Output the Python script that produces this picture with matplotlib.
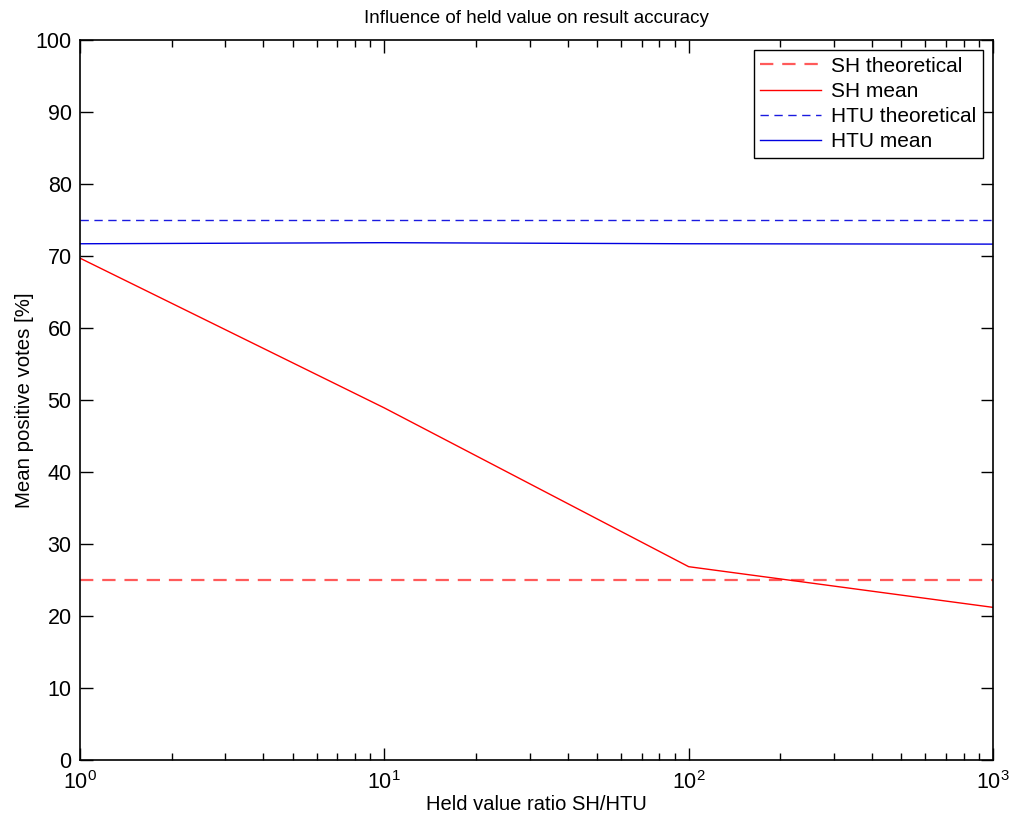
import matplotlib
matplotlib.use("Agg")
import matplotlib.pyplot as plt
from matplotlib.ticker import LogLocator, NullFormatter, MultipleLocator

plt.rcParams['font.family'] = ['Liberation Sans', 'DejaVu Sans']
plt.rcParams['mathtext.fontset'] = 'custom'
plt.rcParams['mathtext.rm'] = 'Liberation Sans'
plt.rcParams['mathtext.default'] = 'regular'

ratios = [1, 10, 100, 1000]
sh_mean = [69.7, 48.9, 26.85, 21.2]
htu_mean = [71.7, 71.85, 71.7, 71.65]
sh_theoretical = 25
htu_theoretical = 75

fig = plt.figure(figsize=(10.14, 8.22), dpi=100)
ax = fig.add_axes([80/1014, 1-760/822, 913/1014, 720/822])

ax.plot(ratios, [sh_theoretical]*len(ratios), color='#ff5a5a', ls=(0, (6, 4)), lw=1.6, label='SH theoretical')
ax.plot(ratios, sh_mean, color='red', lw=1.0, label='SH mean')
ax.plot(ratios, [htu_theoretical]*len(ratios), color='#1a1ae0', ls=(0, (6, 4)), lw=1.0, label='HTU theoretical')
ax.plot(ratios, htu_mean, color='#0000e0', lw=1.0, label='HTU mean')

ax.set_xscale('log')
ax.set_xlim(1, 1000)
ax.set_ylim(0, 100)
ax.yaxis.set_major_locator(MultipleLocator(10))
ax.xaxis.set_major_locator(LogLocator(base=10, numticks=10))
ax.xaxis.set_minor_locator(LogLocator(base=10, subs=range(2, 10), numticks=20))
ax.xaxis.set_minor_formatter(NullFormatter())

ax.tick_params(which='both', direction='in', top=True, right=True, labelsize=15.5, width=1.0)
ax.tick_params(which='major', length=9)
ax.tick_params(which='minor', length=5)
ax.tick_params(axis='x', pad=8)
ax.tick_params(axis='y', pad=6)
for s in ax.spines.values():
    s.set_linewidth(1.2)

ax.set_title('Influence of held value on result accuracy', fontsize=13.5, pad=12)
ax.set_xlabel('Held value ratio SH/HTU', fontsize=14.5, labelpad=1)
ax.set_ylabel('Mean positive votes [%]', fontsize=14.7, labelpad=1)

leg = ax.legend(loc='upper right', fontsize=15, fancybox=False, edgecolor='black',
                framealpha=1, borderaxespad=0.5, handlelength=2.9, labelspacing=0.3,
                borderpad=0.3, handletextpad=0.5)
leg.get_frame().set_linewidth(1.0)

fig.savefig('out.png', dpi=100)
